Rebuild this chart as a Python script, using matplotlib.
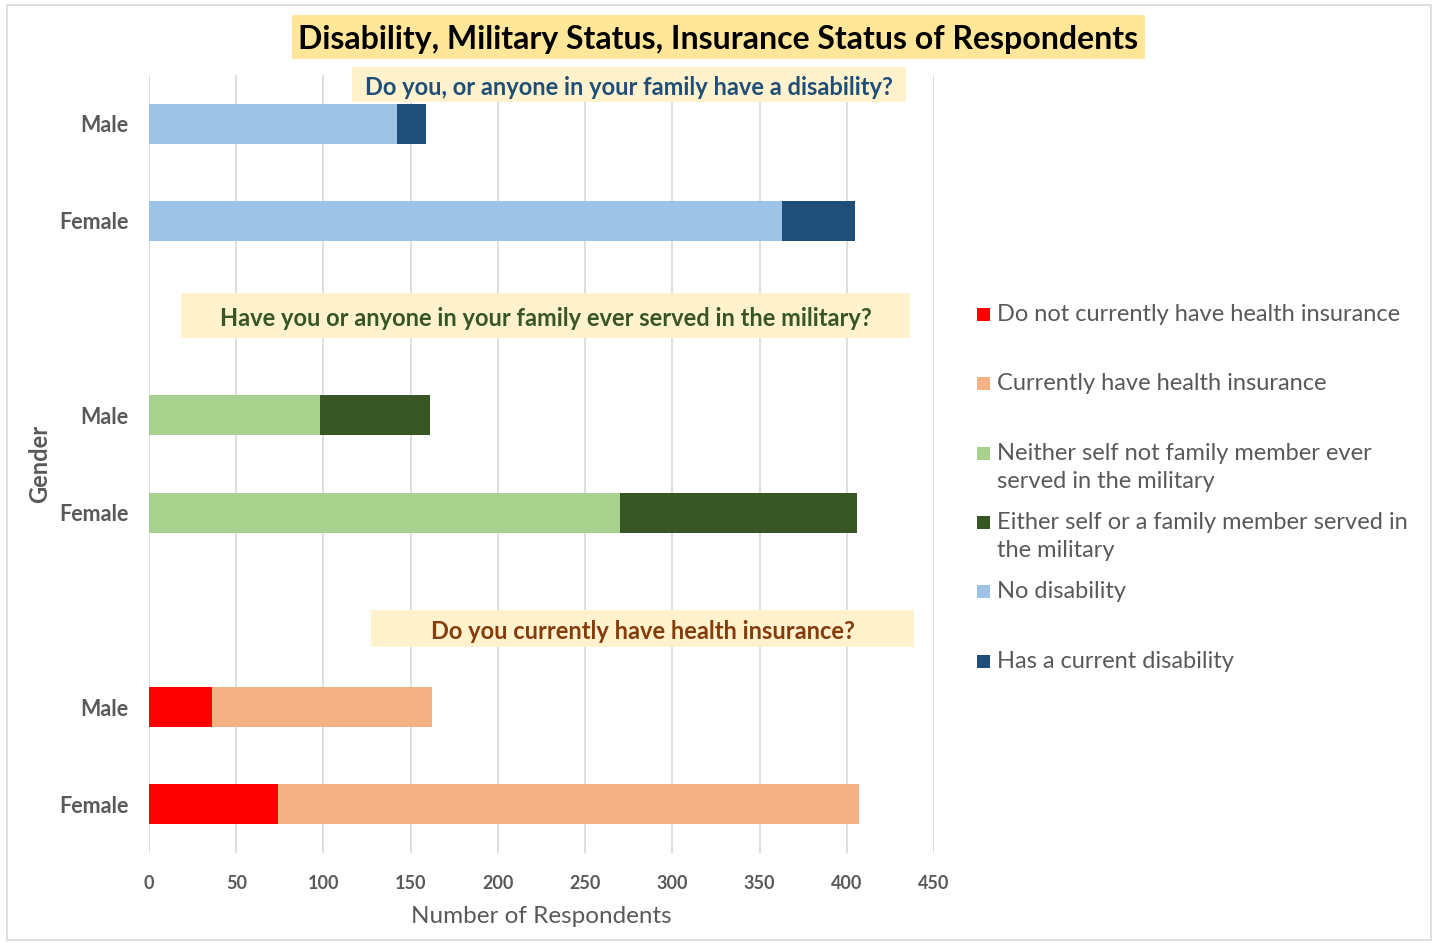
import numpy as np
from matplotlib import pyplot as plt
from matplotlib.patches import Rectangle

# Data
genders = ["Male", "Female"]
disability_none = [142, 363]
disability_has = [17, 42]
military_none = [98, 270]
military_served = [63, 136]
insurance_no = [36, 74]
insurance_yes = [126, 333]

legend_labels = [
    "Do not currently have health insurance",
    "Currently have health insurance",
    "Neither self not family member ever\nserved in the military",
    "Either self or a family member served in\nthe military",
    "No disability",
    "Has a current disability",
]

# Colours
c_red = "#FF0000"
c_peach = "#F4B183"
c_lgreen = "#A9D18E"
c_dgreen = "#375623"
c_lblue = "#9DC3E6"
c_dblue = "#1F4E79"
grey = "#595959"

plt.rcParams['font.family'] = ['Lato', 'DejaVu Sans']

W, H = 1438, 943
fig = plt.figure(figsize=(W / 100, H / 100), dpi=100)
ax = fig.add_axes([0.1036, 0.0954, 0.5459, 0.825])


def fx(px):
    return px / W


def fy(py):
    return 1 - py / H


bar_h = 0.41
groups = [
    (np.array([0, 1]), disability_none, disability_has, c_lblue, c_dblue),
    (np.array([3, 4]), military_none, military_served, c_lgreen, c_dgreen),
    (np.array([6, 7]), insurance_no, insurance_yes, c_red, c_peach),
]
for pos, first, second, col1, col2 in groups:
    ax.barh(pos, first, height=bar_h, color=col1, zorder=3)
    ax.barh(pos, second, left=first, height=bar_h, color=col2, zorder=3)

ax.set_ylim(7.5, -0.5)
ax.set_xlim(0, 450)
ax.set_xticks(np.arange(0, 451, 50))
ax.set_yticks([0, 1, 3, 4, 6, 7])
ax.set_yticklabels(genders * 3, fontsize=15.5, fontweight='bold', color=grey)
for t in ax.get_xticklabels():
    t.set_fontsize(13)
    t.set_fontweight('bold')
    t.set_color(grey)
ax.tick_params(axis='both', length=0)
ax.tick_params(axis='x', pad=16)
ax.tick_params(axis='y', pad=15)
ax.grid(axis='x', color='#D9D9D9', linewidth=1.2, zorder=0)
for s in ax.spines.values():
    s.set_visible(False)

ax.set_xlabel("Number of Respondents", fontsize=17.5, color=grey, labelpad=10)
fig.text(fx(40), fy(464), "Gender", rotation=90, fontsize=17, fontweight='bold',
         color=grey, ha='center', va='center')

# Title
fig.patches.append(Rectangle((fx(292), fy(59)), fx(1145) - fx(292), fy(15) - fy(59),
                             transform=fig.transFigure, facecolor='#FFE699',
                             edgecolor='none', zorder=0))
fig.text(fx(718), fy(39), "Disability, Military Status, Insurance Status of Respondents",
         fontsize=23, fontweight='bold', color='black', ha='center', va='center')

# Section headers: text, box left, box right, box top, box bottom, colour
headers = [
    ("Do you, or anyone in your family have a disability?", 352, 906, 67, 102, c_dblue),
    ("Have you or anyone in your family ever served in the military?", 181, 910, 293, 338, c_dgreen),
    ("Do you currently have health insurance?", 371, 914, 610, 647, "#843C0C"),
]
for txt, x0, x1, y0, y1, col in headers:
    fig.patches.append(Rectangle((fx(x0), fy(y1)), fx(x1) - fx(x0), fy(y0) - fy(y1),
                                 transform=fig.transFigure, facecolor='#FFF2CC',
                                 edgecolor='none', zorder=4))
    fig.text(fx((x0 + x1) / 2), fy((y0 + y1) / 2 + 3), txt, fontsize=17, fontweight='bold',
             color=col, ha='center', va='center', zorder=5)

# Legend (Excel style, manual spacing)
legend_colors = [c_red, c_peach, c_lgreen, c_dgreen, c_lblue, c_dblue]
legend_y = [313, 382, 452, 521, 590, 660]
for lab, col, py in zip(legend_labels, legend_colors, legend_y):
    fig.patches.append(Rectangle((fx(977), fy(py + 8)), 13 / W, 13 / H,
                                 transform=fig.transFigure, facecolor=col,
                                 edgecolor='none'))
    fig.text(fx(997), fy(py - 9), lab, fontsize=17, color=grey,
             ha='left', va='top', linespacing=1.4)

# Outer border
fig.patches.append(Rectangle((fx(7), 3 / H), 1424 / W, 935 / H,
                             transform=fig.transFigure, facecolor='none',
                             edgecolor='#D9D9D9', linewidth=1.2))

fig.savefig("out.png", dpi=100)
